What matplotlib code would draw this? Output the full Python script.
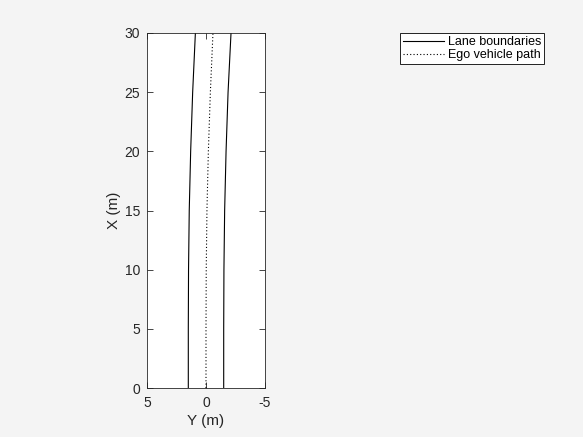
import matplotlib
matplotlib.use('Agg')
import matplotlib.pyplot as plt

# Longitudinal distance along the road (m)
x_dist = [0, 5, 10, 15, 20, 25, 30]
# Lateral positions (m)
left_lane = [1.5, 1.5, 1.48, 1.42, 1.3, 1.13, 0.9]
right_lane = [-1.5, -1.5, -1.52, -1.58, -1.7, -1.87, -2.12]
ego_path = [0, 0, -0.02, -0.08, -0.2, -0.37, -0.59]

plt.rcParams['font.family'] = ['Liberation Sans', 'DejaVu Sans']
plt.rcParams['axes.unicode_minus'] = False

fig = plt.figure(figsize=(5.83, 4.37), dpi=100, facecolor='#f4f4f4')
ax = fig.add_axes([147 / 583, 49 / 437, 118 / 583, 355 / 437])

ax.plot(left_lane, x_dist, color='black', linewidth=0.8, label='Lane boundaries')
ax.plot(right_lane, x_dist, color='black', linewidth=0.8)
ax.plot(ego_path, x_dist, color='black', linewidth=0.8, linestyle=(0, (1, 2)),
        label='Ego vehicle path')

ax.set_xlim(5, -5)
ax.set_ylim(0, 30)
ax.set_xticks([5, 0, -5])
ax.set_yticks([0, 5, 10, 15, 20, 25, 30])
ax.tick_params(direction='in', top=True, right=True, length=4, width=0.6,
               labelsize=10, color='#262626', labelcolor='#262626')
ax.tick_params(axis='x', pad=6)
ax.tick_params(axis='y', pad=5)
for s in ax.spines.values():
    s.set_linewidth(0.6)
    s.set_color('#262626')
ax.set_xlabel('Y (m)', fontsize=11, color='#262626', labelpad=3)
ax.set_ylabel('X (m)', fontsize=11, color='#262626', labelpad=2.5)

leg = ax.legend(loc='upper right', bbox_to_anchor=(544 / 583, 1 - 33 / 437),
                bbox_transform=fig.transFigure, borderaxespad=0, fontsize=9,
                fancybox=False, framealpha=1, edgecolor='black',
                handlelength=3.3, handletextpad=0.25, borderpad=0.25,
                labelspacing=0.08)
leg.get_frame().set_linewidth(0.6)

fig.savefig('out.png', dpi=100, facecolor=fig.get_facecolor())
